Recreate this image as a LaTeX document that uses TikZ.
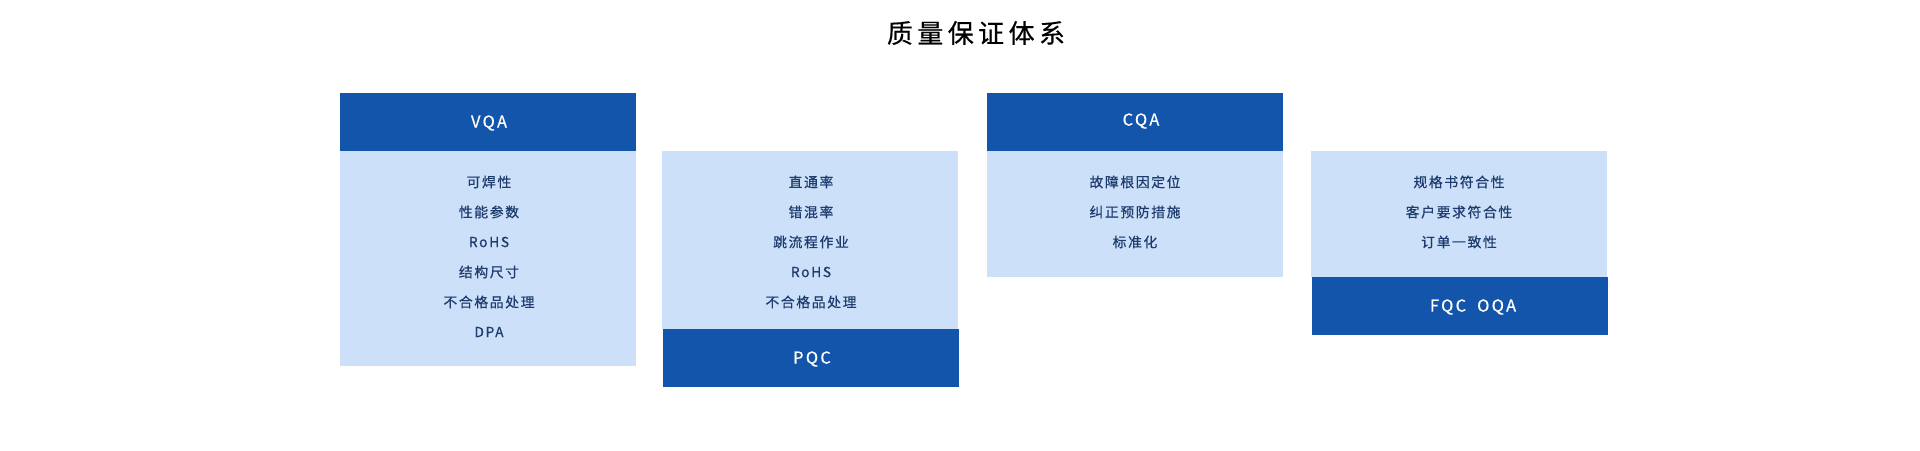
\documentclass[tikz,border=0pt]{standalone}
\usepackage{fontspec}
\setmainfont{Noto Sans CJK SC}
\newfontfamily\bodyfont{Noto Sans CJK SC}[LetterSpace=12,FakeBold=0.7]
\newfontfamily\headfont{Noto Sans CJK SC}[LetterSpace=14,FakeBold=0.5]
\newfontfamily\titlefont{Noto Sans CJK SC}[LetterSpace=17,FakeBold=0.3]
\definecolor{darkblue}{HTML}{1255AB}
\definecolor{lightblue}{HTML}{CCE1F9}
\definecolor{navy}{HTML}{1E3C6E}
\tikzset{
  head/.style={fill=darkblue, draw=none, anchor=north west, minimum width=296pt, minimum height=58pt, inner sep=0pt},
  headtext/.style={text=white, inner sep=0pt, font=\headfont\fontsize{16.5pt}{18pt}\selectfont},
  body/.style={fill=lightblue, draw=none, anchor=north west, minimum width=296pt, inner sep=0pt},
  item/.style={text=navy, inner sep=0pt, anchor=center, font=\bodyfont\fontsize{13.8pt}{16pt}\selectfont},
  titletext/.style={text=black, inner sep=0pt, font=\titlefont\fontsize{26pt}{28pt}\selectfont},
}
\begin{document}
\begin{tikzpicture}[x=1pt,y=-1pt]
\useasboundingbox[fill=white] (0,0) rectangle (1920,450);
\node[titletext] (title) at (976,33) {质量保证体系};
% VQA
\node[body, minimum height=215pt] (b1) at (340,151) {};
\node[head] (h1) at (340,93) {};
\node[headtext] (h1t) at (489,123) {VQA};
\node[item] (b1a) at (489,182) {可焊性};
\node[item] (b1b) at (489,212) {性能参数};
\node[item] (b1c) at (489,242) {RoHS};
\node[item] (b1d) at (489,272) {结构尺寸};
\node[item] (b1e) at (489,302) {不合格品处理};
\node[item] (b1f) at (489,332) {DPA};
% PQC
\node[body, minimum height=178pt] (b2) at (662,151) {};
\node[head] (h2) at (663,329) {};
\node[headtext] (h2t) at (812,359) {PQC};
\node[item] (b2a) at (811,182) {直通率};
\node[item] (b2b) at (811,212) {错混率};
\node[item] (b2c) at (811,242) {跳流程作业};
\node[item] (b2d) at (811,272) {RoHS};
\node[item] (b2e) at (811,302) {不合格品处理};
% CQA
\node[body, minimum height=126pt] (b3) at (987,151) {};
\node[head] (h3) at (987,93) {};
\node[headtext] (h3t) at (1141,121) {CQA};
\node[item] (b3a) at (1135,182) {故障根因定位};
\node[item] (b3b) at (1135,212) {纠正预防措施};
\node[item] (b3c) at (1135,242) {标准化};
% FQC OQA
\node[body, minimum height=126pt] (b4) at (1311,151) {};
\node[head] (h4) at (1312,277) {};
\node[headtext] (h4t) at (1473,307) {FQC\hspace{11pt}OQA};
\node[item] (b4a) at (1459,182) {规格书符合性};
\node[item] (b4b) at (1459,212) {客户要求符合性};
\node[item] (b4c) at (1459,242) {订单一致性};
\end{tikzpicture}
\end{document}
